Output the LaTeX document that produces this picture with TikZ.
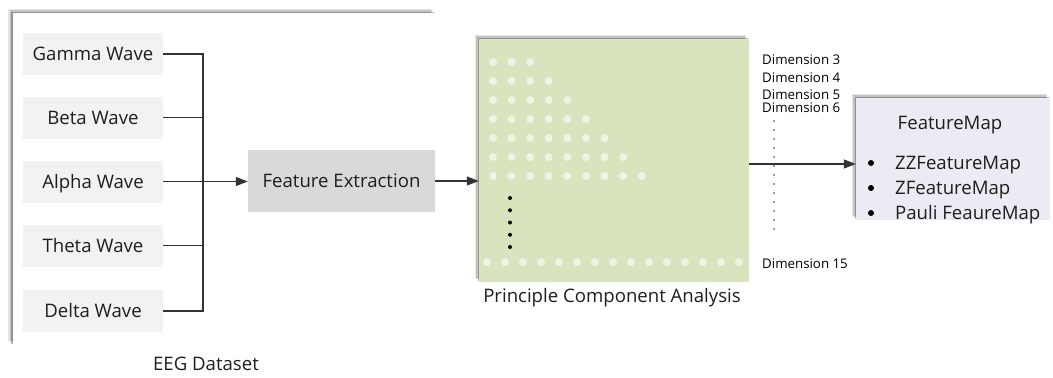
\documentclass[tikz,border=0pt]{standalone}
\usepackage{fontspec}
\setmainfont{Open Sans}
\usetikzlibrary{arrows.meta,shadows}
\definecolor{wavefill}{HTML}{F2F2F2}
\definecolor{fefill}{HTML}{D9D9D9}
\definecolor{pcafill}{HTML}{D8E4BE}
\definecolor{pcadot}{HTML}{EEF3E3}
\definecolor{fmfill}{HTML}{EBEBF3}
\definecolor{linecol}{HTML}{333333}
\definecolor{txtcol}{HTML}{1E1E1E}
\begin{document}
\begin{tikzpicture}[x=1bp,y=-1bp,
  shade/.style={
    drop shadow={shadow xshift=-4.5bp, shadow yshift=4.5bp, opacity=0.10, fill=black},
    drop shadow={shadow xshift=-3bp, shadow yshift=3bp, opacity=0.15, fill=black},
    drop shadow={shadow xshift=-1.5bp, shadow yshift=1.5bp, opacity=0.25, fill=black}},
  panel/.style={rectangle, inner sep=0, shade},
  wavebox/.style={rectangle, fill=wavefill, minimum width=140bp, minimum height=42bp, inner sep=0,
    font=\fontsize{18.6bp}{22bp}\selectfont, text=txtcol, text height=13bp, text depth=0bp},
  lbl/.style={font=\fontsize{18.6bp}{22bp}\selectfont, text=txtcol, inner sep=0, text height=13bp, text depth=0bp},
  dimlbl/.style={font=\fontsize{13.3bp}{15bp}\selectfont, text=black, anchor=west, inner sep=0, text height=9.5bp, text depth=0bp},
  bul/.style={circle, fill=black, inner sep=0, minimum size=6bp},
  conn/.style={draw=linecol, line width=1.1bp},
  arr/.style={conn, -{Triangle[length=12bp,width=9bp]}},
  dotline/.style={draw=black!80, line width=1.7bp, line cap=round, dash pattern=on 0bp off 9bp},
]
\useasboundingbox (0,0) rectangle (1053,377);

% EEG dataset panel
\node[panel, fill=white, minimum width=422bp, minimum height=332bp] (eeg) at (224,179) {};
\node[lbl] (eeglbl) at (206,364) {EEG Dataset};

\node[wavebox] (gamma) at (93,54) {Gamma Wave};
\node[wavebox] (beta)  at (93,117.5) {Beta Wave};
\node[wavebox] (alpha) at (93,181.5) {Alpha Wave};
\node[wavebox] (theta) at (93,245.5) {Theta Wave};
\node[wavebox] (delta) at (93,311) {Delta Wave};

\node[rectangle, fill=fefill, minimum width=187bp, minimum height=62bp, inner sep=0,
  font=\fontsize{18.6bp}{22bp}\selectfont, text=txtcol, text height=13bp, text depth=0bp] (fe) at (341.5,181) {Feature Extraction};

\coordinate (busx) at (203,0);
\draw[conn] (gamma.east) -- (gamma.east -| busx) -- (delta.east -| busx) -- (delta.east);
\draw[conn] (beta.east) -- (beta.east -| busx);
\draw[conn] (theta.east) -- (theta.east -| busx);
\draw[arr] (alpha.east) -- (alpha.east -| fe.west);

% PCA panel
\node[panel, fill=pcafill, minimum width=270bp, minimum height=243bp] (pca) at (614,160.5) {};
\node[lbl] (pcalbl) at (612,296) {Principle Component Analysis};
\foreach \r in {0,...,6} {
  \pgfmathtruncatemacro{\n}{\r+2}
  \foreach \c in {0,...,\n} {
    \fill[pcadot] (493+18.6*\c, 62+19*\r) circle (4bp);
  }
}
\foreach \c in {0,...,14} {
  \fill[pcadot] (487+18*\c, 262) circle (4bp);
}
\foreach \k in {0,...,4} {
  \fill[black] (510, 198+12.25*\k) circle (2bp);
}
\draw[arr] (fe.east) -- (fe.east -| pca.west);

% Dimension labels
\node[dimlbl] (d3) at (762,60) {Dimension 3};
\node[dimlbl] (d4) at (762,78) {Dimension 4};
\node[dimlbl] (d5) at (762,95) {Dimension 5};
\node[dimlbl] (d6) at (762,108) {Dimension 6};
\node[dimlbl] (d15) at (762,264) {Dimension 15};
\coordinate (dtop) at (774,121);
\coordinate (dbot) at (774,238);
\draw[dotline] (dtop) -- (dbot);

% FeatureMap panel
\node[panel, fill=fmfill, minimum width=194bp, minimum height=122bp] (fm) at (953,159) {};
\node[lbl] (fmtitle) at (950,123) {FeatureMap};
\node[bul] (b1) at (871,163) {};
\node[bul] (b2) at (871,188) {};
\node[bul] (b3) at (871,213) {};
\node[lbl, anchor=west] (zz) at (895,163) {ZZFeatureMap};
\node[lbl, anchor=west] (z) at (895,188) {ZFeatureMap};
\node[lbl, anchor=west] (pauli) at (895,213) {Pauli FeaureMap};

\draw[arr] ([yshift=-3.5bp]pca.east) -- ([yshift=-3.5bp]pca.east -| fm.west);
\end{tikzpicture}
\end{document}
